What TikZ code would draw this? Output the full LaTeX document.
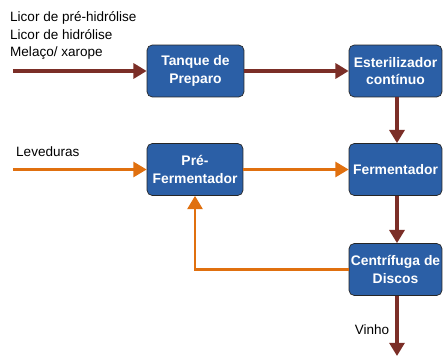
\documentclass[tikz,border=0pt]{standalone}
\usepackage{fontspec}
\setmainfont{Liberation Sans}
\usetikzlibrary{arrows.meta}
\definecolor{boxblue}{HTML}{2B5FA6}
\definecolor{wine}{HTML}{7B2E27}
\definecolor{yeast}{HTML}{E0700F}
\begin{document}
\begin{tikzpicture}[x=0.02cm, y=-0.02cm,
    every node/.style={font=\fontsize{7.7}{10}\selectfont},
    unit/.style={draw=black!85, fill=boxblue, rounded corners=3pt, text=white, align=center, inner sep=0pt,
        minimum height=1.04cm, font=\fontsize{7.9}{10}\selectfont\bfseries},
    mainflow/.style={draw=wine, line width=2pt, -{Triangle[length=7.5pt,width=8.5pt]}},
    yeastflow/.style={draw=yeast, line width=1.4pt, -{Triangle[length=7.5pt,width=8.5pt]}}]
    \useasboundingbox (0,0) rectangle (444,358);

    \node[unit, minimum width=1.94cm] (tanque) at (195.5,71) {Tanque de\\Preparo};
    \node[unit, minimum width=1.86cm] (ester) at (395.5,71) {Esterilizador\\contínuo};
    \node[unit, minimum width=1.92cm] (pre) at (195,169.5) {Pré-\\Fermentador};
    \node[unit, minimum width=1.86cm] (ferm) at (395.5,169.5) {Fermentador};
    \node[unit, minimum width=1.86cm] (centri) at (395.5,269.5) {Centrífuga de\\Discos};

    \coordinate (feed) at (13,71);
    \coordinate (yeastin) at (13,169.5);
    \coordinate (wineout) at (397,356);

    \node[anchor=west, align=left] (feedtxt) at (4,35.5) {Licor de pré-hidrólise\\Licor de hidrólise\\Melaço/ xarope};
    \node[anchor=west] (yeasttxt) at (10,152) {Leveduras};
    \node (winetxt) at (372,330) {Vinho};

    \draw[mainflow] (feed) -- (tanque);
    \draw[mainflow] (tanque) -- (ester);
    \draw[mainflow] (ester.south -| wineout) -- (ferm.north -| wineout);
    \draw[mainflow] (ferm.south -| wineout) -- (centri.north -| wineout);
    \draw[mainflow] (centri.south -| wineout) -- (wineout);

    \draw[yeastflow] (yeastin) -- (pre);
    \draw[yeastflow] (pre) -- (ferm);
    \draw[yeastflow] (centri.west) -| (pre.south);
\end{tikzpicture}
\end{document}
